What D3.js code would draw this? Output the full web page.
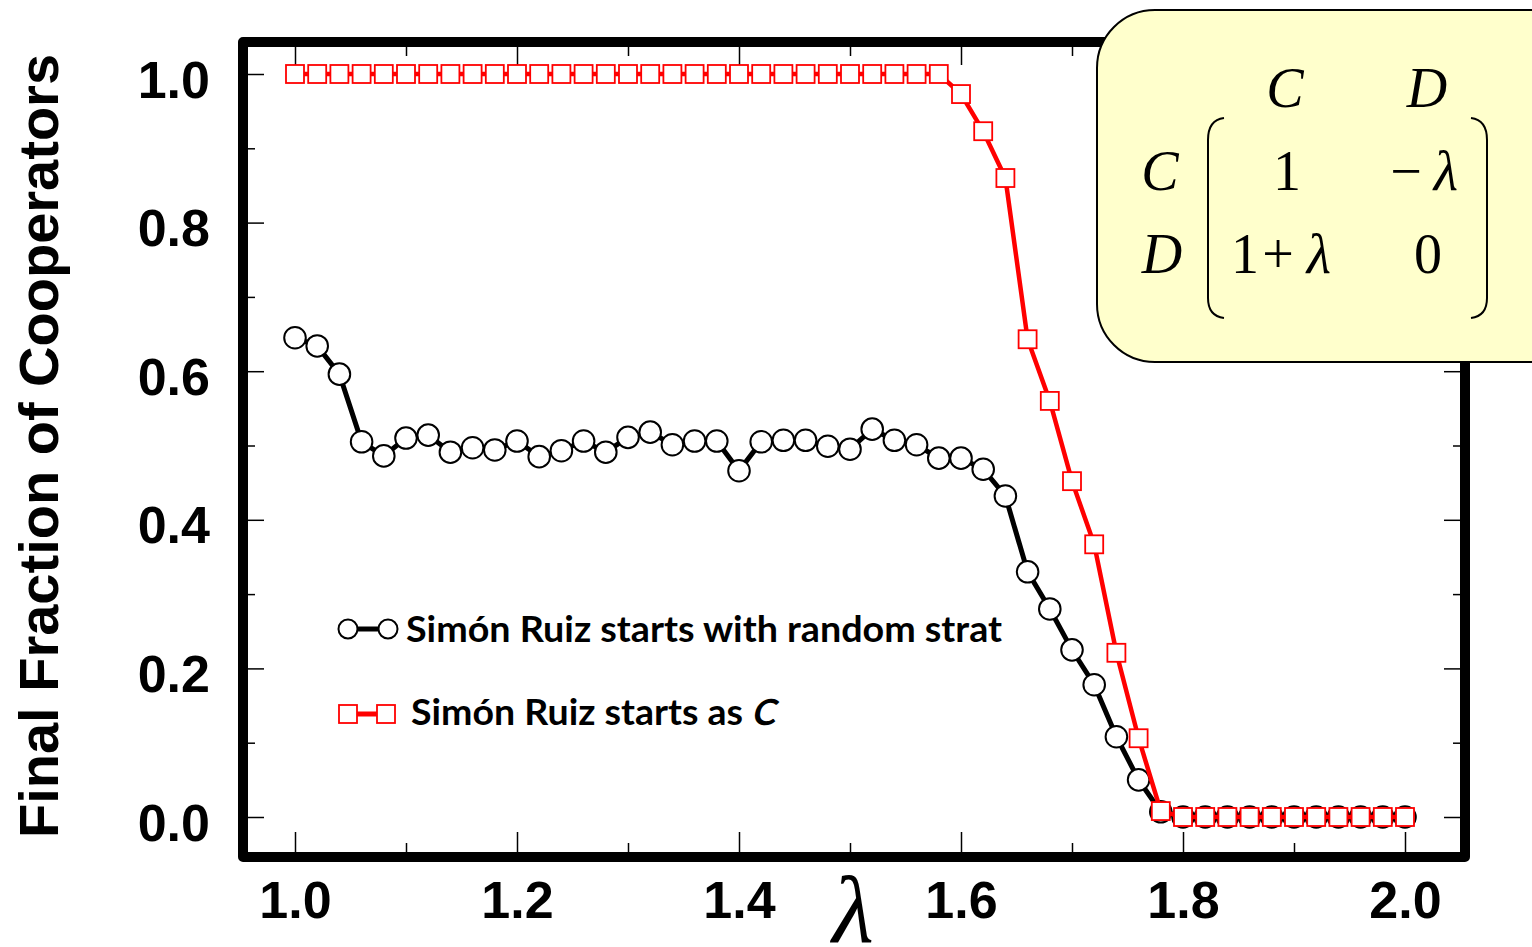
<!DOCTYPE html>
<html>
<head>
<meta charset="utf-8">
<script src="https://cdn.jsdelivr.net/npm/d3@7"></script>
<style>
  body { margin: 0; background: #fff; }
  svg { display: block; }
</style>
</head>
<body>
<div id="chart"></div>
<script>
// lambda values, 1.00 .. 2.00 step 0.02
const lambdas = [
  1.00, 1.02, 1.04, 1.06, 1.08, 1.10, 1.12, 1.14, 1.16, 1.18,
  1.20, 1.22, 1.24, 1.26, 1.28, 1.30, 1.32, 1.34, 1.36, 1.38,
  1.40, 1.42, 1.44, 1.46, 1.48, 1.50, 1.52, 1.54, 1.56, 1.58,
  1.60, 1.62, 1.64, 1.66, 1.68, 1.70, 1.72, 1.74, 1.76, 1.78,
  1.80, 1.82, 1.84, 1.86, 1.88, 1.90, 1.92, 1.94, 1.96, 1.98, 2.00
];

// starts with random strategy
const randomStart = [
  0.645, 0.634, 0.596, 0.505, 0.486, 0.510, 0.514, 0.491, 0.497, 0.494,
  0.506, 0.485, 0.493, 0.506, 0.491, 0.511, 0.518, 0.501, 0.506, 0.506,
  0.466, 0.505, 0.507, 0.507, 0.499, 0.495, 0.522, 0.507, 0.501, 0.483,
  0.483, 0.468, 0.432, 0.330, 0.280, 0.225, 0.178, 0.108, 0.050, 0.007,
  0, 0, 0, 0, 0, 0, 0, 0, 0, 0, 0
];

// starts as cooperator
const cooperatorStart = [
  1, 1, 1, 1, 1, 1, 1, 1, 1, 1,
  1, 1, 1, 1, 1, 1, 1, 1, 1, 1,
  1, 1, 1, 1, 1, 1, 1, 1, 1, 1,
  0.973, 0.923, 0.860, 0.643, 0.560, 0.452, 0.367, 0.221, 0.106, 0.008,
  0, 0, 0, 0, 0, 0, 0, 0, 0, 0, 0
];

const xMajor = [1.0, 1.2, 1.4, 1.6, 1.8, 2.0];
const xMinor = [1.1, 1.3, 1.5, 1.7, 1.9];
const yMajor = [0, 0.2, 0.4, 0.6, 0.8, 1.0];
const yMinor = [0.1, 0.3, 0.5, 0.7, 0.9];

const legendLabels = ["Simón Ruiz starts with random strat", "Simón Ruiz starts as"];

const width = 1532;
const height = 947;

const svg = d3.select("#chart")
  .append("svg")
  .attr("width", width)
  .attr("height", height);

const x = d3.scaleLinear().domain([1, 2]).range([295, 1405]);
const y = d3.scaleLinear().domain([0, 1]).range([817, 74]);

// frame inner edges
const frameL = 248, frameR = 1460, frameT = 47, frameB = 852;

const fmt = d3.format(".1f");

function styleAxis(g) {
  g.select(".domain").remove();
  g.selectAll("line").attr("stroke", "#000").attr("stroke-width", 1.5);
}

// bottom axis with labels
svg.append("g")
  .attr("transform", `translate(0,${frameB})`)
  .call(d3.axisBottom(x).tickValues(xMajor).tickFormat(fmt).tickSizeInner(-20).tickSizeOuter(0).tickPadding(29))
  .call(styleAxis)
  .call(g => g.selectAll("text")
    .attr("font-family", "'Liberation Sans', Arial, sans-serif")
    .attr("font-weight", "bold")
    .attr("font-size", 52)
    .attr("fill", "#000"));

svg.append("g")
  .attr("transform", `translate(0,${frameB})`)
  .call(d3.axisBottom(x).tickValues(xMinor).tickFormat("").tickSizeInner(-9).tickSizeOuter(0))
  .call(styleAxis);

// top ticks
svg.append("g")
  .attr("transform", `translate(0,${frameT})`)
  .call(d3.axisTop(x).tickValues(xMajor).tickFormat("").tickSizeInner(-18).tickSizeOuter(0))
  .call(styleAxis);
svg.append("g")
  .attr("transform", `translate(0,${frameT})`)
  .call(d3.axisTop(x).tickValues(xMinor).tickFormat("").tickSizeInner(-9).tickSizeOuter(0))
  .call(styleAxis);

// left axis with labels
svg.append("g")
  .attr("transform", `translate(${frameL},0)`)
  .call(d3.axisLeft(y).tickValues(yMajor).tickFormat(fmt).tickSizeInner(-16).tickSizeOuter(0).tickPadding(38))
  .call(styleAxis)
  .call(g => g.selectAll("text")
    .attr("dy", 23)
    .attr("font-family", "'Liberation Sans', Arial, sans-serif")
    .attr("font-weight", "bold")
    .attr("font-size", 52)
    .attr("fill", "#000"));

svg.append("g")
  .attr("transform", `translate(${frameL},0)`)
  .call(d3.axisLeft(y).tickValues(yMinor).tickFormat("").tickSizeInner(-7).tickSizeOuter(0))
  .call(styleAxis);

// right ticks
svg.append("g")
  .attr("transform", `translate(${frameR},0)`)
  .call(d3.axisRight(y).tickValues(yMajor).tickFormat("").tickSizeInner(-16).tickSizeOuter(0))
  .call(styleAxis);
svg.append("g")
  .attr("transform", `translate(${frameR},0)`)
  .call(d3.axisRight(y).tickValues(yMinor).tickFormat("").tickSizeInner(-7).tickSizeOuter(0))
  .call(styleAxis);

// thick frame
svg.append("rect")
  .attr("x", frameL - 5)
  .attr("y", frameT - 5)
  .attr("width", frameR - frameL + 10)
  .attr("height", frameB - frameT + 10)
  .attr("fill", "none")
  .attr("stroke", "#000")
  .attr("stroke-width", 10)
  .attr("stroke-linejoin", "round");

// axis titles
svg.append("text")
  .attr("transform", "translate(58,446) rotate(-90)")
  .attr("text-anchor", "middle")
  .attr("font-family", "'Liberation Sans', Arial, sans-serif")
  .attr("font-weight", "bold")
  .attr("font-size", 56)
  .text("Final Fraction of Cooperators");

svg.append("text")
  .attr("x", 853)
  .attr("y", 942)
  .attr("text-anchor", "middle")
  .attr("font-family", "'Liberation Serif', 'Times New Roman', serif")
  .attr("font-style", "italic")
  .attr("font-size", 96)
  .text("λ");

// series
const randomData = lambdas.map((l, i) => ({ l: l, v: randomStart[i] }));
const coopData = lambdas.map((l, i) => ({ l: l, v: cooperatorStart[i] }));

const line = d3.line().x(d => x(d.l)).y(d => y(d.v));

svg.append("path")
  .datum(randomData)
  .attr("d", line)
  .attr("fill", "none")
  .attr("stroke", "#000")
  .attr("stroke-width", 5);

svg.selectAll("circle.rand")
  .data(randomData)
  .enter()
  .append("circle")
  .attr("class", "rand")
  .attr("cx", d => x(d.l))
  .attr("cy", d => y(d.v))
  .attr("r", 10.8)
  .attr("fill", "#fff")
  .attr("stroke", "#000")
  .attr("stroke-width", 2);

svg.append("path")
  .datum(coopData)
  .attr("d", line)
  .attr("fill", "none")
  .attr("stroke", "#ff0000")
  .attr("stroke-width", 4.5);

const sq = 18;
svg.selectAll("rect.coop")
  .data(coopData)
  .enter()
  .append("rect")
  .attr("class", "coop")
  .attr("x", d => x(d.l) - sq / 2)
  .attr("y", d => y(d.v) - sq / 2)
  .attr("width", sq)
  .attr("height", sq)
  .attr("fill", "#fff")
  .attr("stroke", "#ff0000")
  .attr("stroke-width", 1.8);

// legend
const legendFont = "Lato, 'Open Sans', sans-serif";
const lg = svg.append("g");

lg.append("line")
  .attr("x1", 348).attr("x2", 388).attr("y1", 629).attr("y2", 629)
  .attr("stroke", "#000").attr("stroke-width", 5);
[348, 388].forEach(cx => {
  lg.append("circle")
    .attr("cx", cx).attr("cy", 629).attr("r", 9.5)
    .attr("fill", "#fff").attr("stroke", "#000").attr("stroke-width", 2);
});
lg.append("text")
  .attr("x", 406).attr("y", 642)
  .attr("font-family", legendFont)
  .attr("font-weight", "bold")
  .attr("font-size", 36)
  .attr("textLength", 596)
  .attr("lengthAdjust", "spacingAndGlyphs")
  .text(legendLabels[0]);

lg.append("line")
  .attr("x1", 348).attr("x2", 386).attr("y1", 714).attr("y2", 714)
  .attr("stroke", "#ff0000").attr("stroke-width", 5);
[348, 386].forEach(cx => {
  lg.append("rect")
    .attr("x", cx - 9).attr("y", 705).attr("width", 18).attr("height", 18)
    .attr("fill", "#fff").attr("stroke", "#ff0000").attr("stroke-width", 1.8);
});
lg.append("text")
  .attr("x", 411).attr("y", 725)
  .attr("font-family", legendFont)
  .attr("font-weight", "bold")
  .attr("font-size", 36)
  .attr("textLength", 332)
  .attr("lengthAdjust", "spacingAndGlyphs")
  .text(legendLabels[1]);
// slanted C (italic)
lg.append("text")
  .attr("transform", "translate(751,725) skewX(-13)")
  .attr("font-family", legendFont)
  .attr("font-weight", "bold")
  .attr("font-size", 36)
  .text("C");

// payoff matrix box
const box = svg.append("g");
box.append("rect")
  .attr("x", 1097).attr("y", 10)
  .attr("width", 520).attr("height", 352)
  .attr("rx", 58).attr("ry", 58)
  .attr("fill", "#ffffcc")
  .attr("stroke", "#000")
  .attr("stroke-width", 2);

const serif = "'Liberation Serif', 'Times New Roman', serif";
function mtext(cx, cy, str, italic) {
  box.append("text")
    .attr("x", cx).attr("y", cy)
    .attr("text-anchor", "middle")
    .attr("font-family", serif)
    .attr("font-style", italic ? "italic" : "normal")
    .attr("font-size", 56)
    .attr("fill", "#000")
    .text(str);
}
mtext(1285, 107, "C", true);
mtext(1427, 107, "D", true);
mtext(1160, 190, "C", true);
mtext(1162, 273, "D", true);
mtext(1287, 190, "1", false);
mtext(1406, 190, "−", false);
mtext(1446, 190, "λ", true);
mtext(1245, 273, "1", false);
mtext(1278, 273, "+", false);
mtext(1319, 273, "λ", true);
mtext(1428, 273, "0", false);

box.append("path")
  .attr("d", "M1224,118 Q1208,120 1208,140 L1208,298 Q1208,316 1224,318")
  .attr("fill", "none").attr("stroke", "#000").attr("stroke-width", 2);
box.append("path")
  .attr("d", "M1471,118 Q1487,120 1487,140 L1487,298 Q1487,316 1471,318")
  .attr("fill", "none").attr("stroke", "#000").attr("stroke-width", 2);
</script>
</body>
</html>
